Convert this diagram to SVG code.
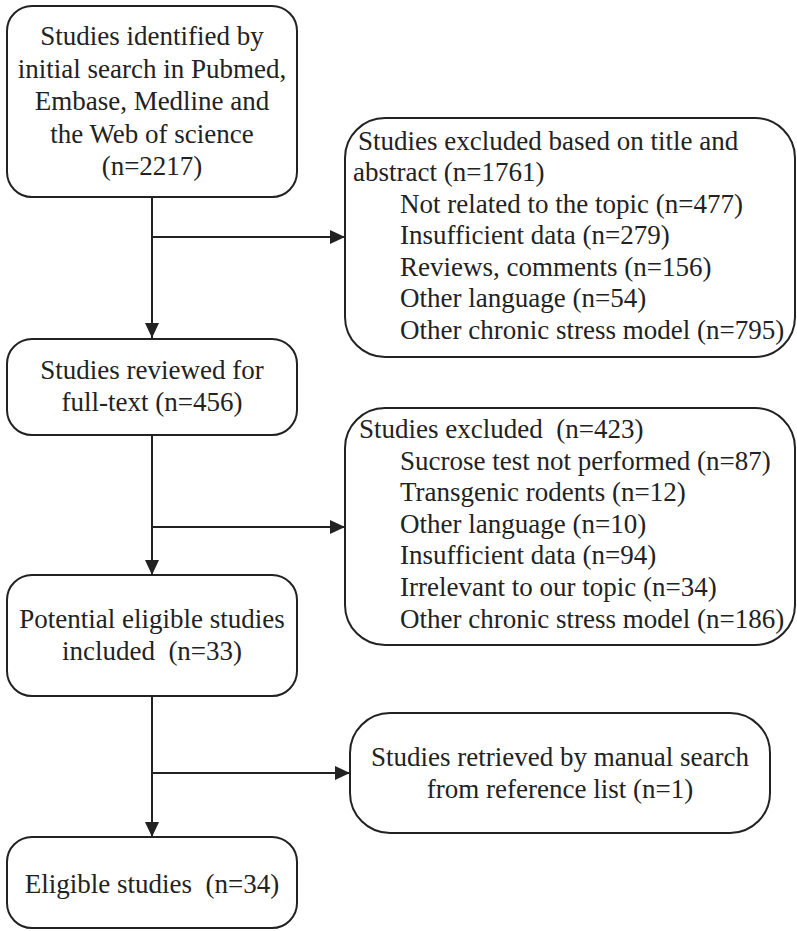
<svg xmlns="http://www.w3.org/2000/svg" width="797" height="931" viewBox="0 0 797 931">
<style>
  .box { fill: #fff; stroke: #222; stroke-width: 2; }
  .t { font-family: "Liberation Serif", "Times New Roman", serif; font-size: 27px; fill: #222; }
  .c { text-anchor: middle; }
  .line { fill: none; stroke: #222; stroke-width: 2; }
</style>
<defs>
  <marker id="arr" markerUnits="userSpaceOnUse" markerWidth="16" markerHeight="16" refX="15" refY="7" orient="auto">
    <path d="M0,0 L15,7 L0,14 z" fill="#222"/>
  </marker>
</defs>
<rect width="797" height="931" fill="#fff"/>

<g id="connectors">
  <line class="line" x1="152" y1="197" x2="152" y2="338" marker-end="url(#arr)"/>
  <line class="line" x1="152" y1="237" x2="345" y2="237" marker-end="url(#arr)"/>
  <line class="line" x1="152" y1="435" x2="152" y2="575" marker-end="url(#arr)"/>
  <line class="line" x1="152" y1="527" x2="345" y2="527" marker-end="url(#arr)"/>
  <line class="line" x1="152" y1="696" x2="152" y2="837" marker-end="url(#arr)"/>
  <line class="line" x1="152" y1="773" x2="350" y2="773" marker-end="url(#arr)"/>
</g>

<g id="identified">
  <rect class="box" x="7" y="6" width="290" height="191" rx="25" ry="25"/>
  <text class="t c" x="152" y="45">Studies identified by</text>
  <text class="t c" x="152" y="77.5">initial search in Pubmed,</text>
  <text class="t c" x="152" y="110">Embase, Medline and</text>
  <text class="t c" x="152" y="142.5">the Web of science</text>
  <text class="t c" x="152" y="175">(n=2217)</text>
</g>

<g id="excluded1">
  <rect class="box" x="345" y="118" width="450" height="239" rx="40" ry="40"/>
  <text class="t" x="358" y="150">Studies excluded based on title and</text>
  <text class="t" x="353" y="181">abstract (n=1761)</text>
  <text class="t" x="400" y="213">Not related to the topic (n=477)</text>
  <text class="t" x="400" y="244">Insufficient data (n=279)</text>
  <text class="t" x="400" y="276">Reviews, comments (n=156)</text>
  <text class="t" x="400" y="307">Other language (n=54)</text>
  <text class="t" x="400" y="339">Other chronic stress model (n=795)</text>
</g>

<g id="reviewed">
  <rect class="box" x="7" y="339" width="290" height="96" rx="25" ry="25"/>
  <text class="t c" x="152" y="379">Studies reviewed for</text>
  <text class="t c" x="152" y="411">full-text (n=456)</text>
</g>

<g id="excluded2">
  <rect class="box" x="345" y="408" width="450" height="237" rx="40" ry="40"/>
  <text class="t" x="359" y="438">Studies excluded &#160;(n=423)</text>
  <text class="t" x="400" y="470">Sucrose test not performed (n=87)</text>
  <text class="t" x="400" y="501">Transgenic rodents (n=12)</text>
  <text class="t" x="400" y="533">Other language (n=10)</text>
  <text class="t" x="400" y="564">Insufficient data (n=94)</text>
  <text class="t" x="400" y="596">Irrelevant to our topic (n=34)</text>
  <text class="t" x="400" y="628">Other chronic stress model (n=186)</text>
</g>

<g id="potential">
  <rect class="box" x="7" y="575" width="290" height="121" rx="25" ry="25"/>
  <text class="t c" x="152" y="628">Potential eligible studies</text>
  <text class="t c" x="152" y="660">included &#160;(n=33)</text>
</g>

<g id="manual">
  <rect class="box" x="350" y="713" width="420" height="120" rx="40" ry="40"/>
  <text class="t c" x="560" y="766">Studies retrieved by manual search</text>
  <text class="t c" x="560" y="798">from reference list (n=1)</text>
</g>

<g id="eligible">
  <rect class="box" x="7" y="837" width="290" height="91" rx="25" ry="25"/>
  <text class="t c" x="152" y="893">Eligible studies &#160;(n=34)</text>
</g>
</svg>
